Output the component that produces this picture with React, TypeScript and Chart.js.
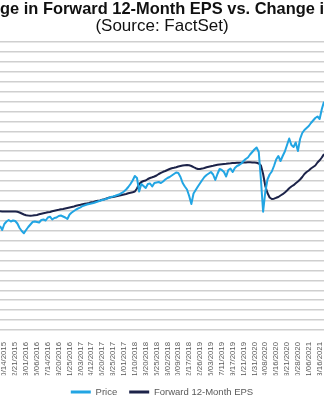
import React, { useEffect, useRef } from "react";
import { Chart, registerables } from "chart.js";

Chart.register(...registerables);

// Tick labels shown on the category axis (every 5th sample)
const tickLabels = [
  "10/14/2015", "12/21/2015", "03/01/2016", "05/06/2016", "07/14/2016",
  "09/20/2016", "11/25/2016", "02/03/2017", "04/12/2017", "06/20/2017",
  "08/25/2017", "11/01/2017", "01/10/2018", "03/20/2018", "05/25/2018",
  "08/02/2018", "10/09/2018", "12/17/2018", "02/26/2019", "05/03/2019",
  "07/11/2019", "09/17/2019", "11/21/2019", "01/31/2020", "04/08/2020",
  "06/16/2020", "08/21/2020", "10/28/2020", "01/06/2021", "03/16/2021",
];
const pointsPerTick = 5;
const leadPoints = 2;

const seriesNames = ["Price", "Forward 12-Month EPS"];

// Price (index units)
const priceValues = [
  104, 100, 106, 108.5, 110, 108.5, 109.5, 109, 106.5, 102,
  99, 96.7, 100, 103, 105.5, 108, 108.5, 108, 107.5, 110,
  110.5, 109.5, 112.5, 113.3, 110.5, 112, 112.5, 114, 114.5, 113.5,
  112.5, 111, 115.5, 117.5, 119, 120.5, 121.7, 122.7, 124, 124.7,
  125.5, 126, 126.5, 127, 127.8, 128.5, 129.2, 130, 130.5, 131.2,
  132, 133, 133.5, 134.2, 135, 135.8, 137, 138.5, 140.5, 143,
  146, 149.5, 154, 152, 138.5, 146, 144, 142, 146, 146.5,
  143.5, 147, 147.5, 148, 147, 148.5, 150.5, 152, 153, 154.5,
  156, 157.5, 157, 153, 147, 143.5, 140.5, 134, 126, 136.5,
  140, 143.5, 146.7, 150, 153, 155, 156.5, 158, 155.5, 150,
  156, 161, 160, 158, 153.5, 160, 161.5, 158, 162, 164,
  165, 166.5, 169, 171, 172.5, 175.5, 178, 180.5, 182.5, 178,
  150, 118.3, 138, 150.5, 155.5, 158.5, 164, 170.5, 174, 169,
  174, 178.5, 185, 191.5, 185, 183, 187.5, 179, 191, 197,
  200, 202, 204, 207, 209.5, 212, 213.5, 211, 221, 228.3,
];

// Forward 12-month EPS (index units)
const epsValues = [
  118.7, 118.6, 118.5, 118.5, 118.5, 118.5, 118.5, 118.4, 118.2, 117.5,
  116.5, 115.5, 114.7, 114.4, 114.3, 114.5, 114.8, 115, 115.7, 116.3,
  116.8, 117.2, 117.7, 118, 118.7, 119.3, 119.8, 120.2, 120.7, 121,
  121.5, 122, 122.5, 123, 123.5, 124.2, 124.7, 125.2, 125.8, 126.2,
  126.6, 127, 127.7, 128, 128.7, 129.2, 129.6, 130.3, 130.8, 131.5,
  132.2, 132.7, 133, 133.5, 134, 134.4, 135, 135.5, 136, 136.7,
  137.2, 137.8, 138.5, 141.5, 146, 148, 149, 149.5, 151, 152,
  152.7, 153.5, 154.5, 156, 157.2, 158.2, 159, 160, 161, 161.8,
  162.2, 162.8, 163.5, 164, 164.5, 164.8, 165, 164.7, 164, 162.8,
  161.8, 161, 161, 161.4, 162, 162.7, 163.3, 163.8, 164.2, 164.7,
  165.2, 165.6, 165.8, 166, 166.2, 166.5, 166.7, 167, 167, 167.2,
  167.2, 167.3, 167.5, 167.6, 167.7, 167.7, 167.6, 167.5, 167.3, 166.5,
  164.5, 156, 144, 137, 132.5, 131, 131.3, 132.2, 133, 134.5,
  135.8, 137.5, 139.5, 141.7, 143.5, 144.8, 146.7, 148.5, 150.5, 153,
  156, 158, 159.5, 161.5, 163, 164.5, 167.5, 169.7, 172.5, 176,
];

const yMin = 0;
const yMax = 288;
const gridIntervals = 29;

const FONT = "'Liberation Sans', Arial, Helvetica, sans-serif";
const PRICE_COLOR = "#22a5e3";
const EPS_COLOR = "#1c2349";

export default function App() {
  const canvasRef = useRef<HTMLCanvasElement | null>(null);

  useEffect(() => {
    const canvas = canvasRef.current;
    if (!canvas) return;

    const categories = priceValues.map((_, i) => {
      const k = (i - leadPoints) / pointsPerTick;
      return i >= leadPoints && Number.isInteger(k) && k < tickLabels.length
        ? tickLabels[k]
        : "";
    });

    const chart = new Chart(canvas, {
      type: "line",
      data: {
        labels: categories,
        datasets: [
          {
            label: seriesNames[0],
            data: priceValues,
            borderColor: PRICE_COLOR,
            backgroundColor: PRICE_COLOR,
            borderWidth: 2,
            pointRadius: 0,
            tension: 0,
            borderJoinStyle: "round",
          },
          {
            label: seriesNames[1],
            data: epsValues,
            borderColor: EPS_COLOR,
            backgroundColor: EPS_COLOR,
            borderWidth: 2,
            pointRadius: 0,
            tension: 0,
            borderJoinStyle: "round",
          },
        ],
      },
      options: {
        responsive: false,
        animation: false,
        events: [],
        layout: { padding: 0 },
        plugins: {
          title: {
            display: true,
            text: "ge in Forward 12-Month EPS vs. Change i",
            color: "#111111",
            font: { family: FONT, size: 16.5, weight: "bold", lineHeight: 1.1 },
            padding: { top: 0, bottom: 0 },
          },
          subtitle: {
            display: true,
            text: "(Source: FactSet)",
            color: "#111111",
            font: { family: FONT, size: 17, weight: "normal", lineHeight: 1 },
            padding: { top: 0, bottom: 6.85 },
          },
          legend: {
            position: "bottom",
            maxHeight: 24.75,
            labels: {
              boxWidth: 20,
              boxHeight: 3,
              padding: 12,
              color: "#595959",
              font: { family: FONT, size: 9.5 },
              generateLabels: (c: any) =>
                Chart.defaults.plugins.legend.labels
                  .generateLabels(c)
                  .map((l: any) => ({ ...l, lineWidth: 0 })),
            },
          },
          tooltip: { enabled: false },
        },
        scales: {
          x: {
            type: "category",
            grid: { display: false, drawTicks: true, tickLength: 8 },
            border: { display: false },
            ticks: {
              autoSkip: false,
              minRotation: 90,
              maxRotation: 90,
              padding: 4,
              color: "#595959",
              font: { family: FONT, size: 7.8 },
            },
            afterFit: (s: any) => {
              s.paddingLeft = 0;
              s.paddingRight = 0;
              s.height = 45.25;
            },
          },
          y: {
            min: yMin,
            max: yMax,
            ticks: { display: false, stepSize: (yMax - yMin) / gridIntervals },
            grid: { color: "#cfcfcf", lineWidth: 1.5, drawTicks: false },
            border: { display: false },
          },
        },
      },
    });

    return () => chart.destroy();
  }, []);

  return (
    <div style={{ width: 324, height: 400, overflow: "hidden" }}>
      <style>{`body{margin:0;background:#fff}`}</style>
      <canvas ref={canvasRef} width={324} height={400} style={{ display: "block" }} />
    </div>
  );
}
